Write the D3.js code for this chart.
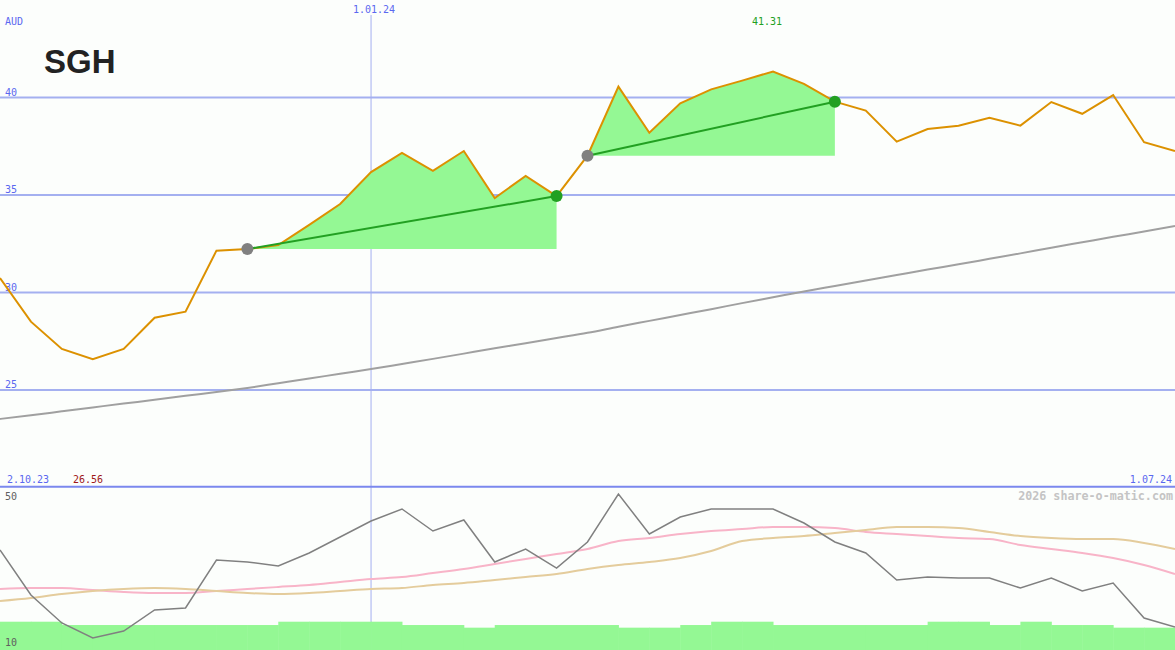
<!DOCTYPE html>
<html><head><meta charset="utf-8">
<script src="https://cdn.jsdelivr.net/npm/d3@7"></script>
<style>
body{margin:0;background:#fcfefc;}
svg{display:block;}
</style>
</head><body>
<svg id="c" width="1175" height="650"></svg>
<script>
// ---------- DATA ----------
const weeks = ["2023-10-09","2023-10-16","2023-10-23","2023-10-30","2023-11-06","2023-11-13","2023-11-20","2023-11-27",
"2023-12-04","2023-12-11","2023-12-18","2023-12-25","2024-01-01","2024-01-08","2024-01-15","2024-01-22","2024-01-29",
"2024-02-05","2024-02-12","2024-02-19","2024-02-26","2024-03-04","2024-03-11","2024-03-18","2024-03-25",
"2024-04-01","2024-04-08","2024-04-15","2024-04-22","2024-04-29","2024-05-06","2024-05-13","2024-05-20","2024-05-27",
"2024-06-03","2024-06-10","2024-06-17","2024-06-24","2024-07-01"];
const price = [30.72,28.48,27.08,26.56,27.08,28.68,28.99,32.12,32.20,32.41,33.44,34.51,36.15,37.13,36.21,37.23,34.82,
35.95,34.92,36.99,40.53,38.17,39.68,40.39,40.84,41.31,40.67,39.76,39.30,37.71,38.36,38.53,38.94,38.53,39.74,39.14,40.10,37.68,37.23];
const ma = [23.49,23.68,23.88,24.08,24.28,24.47,24.68,24.87,25.08,25.32,25.56,25.81,26.05,26.31,26.57,26.84,27.11,27.37,
27.64,27.91,28.22,28.52,28.82,29.12,29.43,29.73,30.03,30.31,30.59,30.87,31.15,31.42,31.70,31.98,32.27,32.55,32.83,33.10,33.38];
const osc = [36.58,24.25,16.58,12.47,14.38,20.14,20.68,33.84,33.29,32.19,35.75,40.14,44.52,47.81,41.78,44.79,33.29,36.85,
31.64,38.77,51.92,40.96,45.62,47.81,47.81,47.81,43.97,38.77,35.75,28.36,29.18,28.90,28.90,26.16,28.90,25.34,27.53,17.95,15.48];
const oscFast = [25.89,26.16,26.16,25.62,25.07,24.79,24.79,25.34,25.89,26.44,26.99,27.81,28.63,29.18,30.27,31.37,32.74,34.11,
35.48,36.85,39.04,39.86,40.96,41.78,42.33,42.88,42.88,42.60,41.51,40.96,40.41,39.86,39.59,37.95,36.85,35.75,34.38,32.47,30.00];
const oscSlow = [22.60,23.42,24.52,25.34,25.89,26.16,25.89,25.34,24.79,24.52,24.79,25.34,25.89,26.16,26.99,27.53,28.36,29.18,
30.00,31.37,32.47,33.29,34.38,36.30,39.04,39.86,40.41,41.23,42.05,42.88,42.88,42.60,41.51,40.41,39.86,39.59,39.59,38.49,36.85];
const volume = [2.8,2.8,2.47,2.47,2.47,2.47,2.47,2.47,2.47,2.8,2.8,2.8,2.8,2.47,2.47,2.21,2.47,2.47,2.47,2.47,2.21,2.21,
2.47,2.8,2.8,2.47,2.47,2.47,2.47,2.47,2.8,2.8,2.47,2.8,2.47,2.47,2.21,2.21];
const trends = [{from:8,to:18},{from:19,to:27}];
const priceTicks = [25,30,35,40];
const oscTicks = [50,10];
const dateMark = "2024-01-01";
const dateMarkLabel = "1.01.24";
const startLabel = "2.10.23", endLabel = "1.07.24";
const ticker = "SGH", currency = "AUD", credit = "2026 share-o-matic.com";

// ---------- CHART ----------
const W = 1175, H = 650;
const MONO = "'DejaVu Sans Mono', monospace";
const parse = d3.utcParse("%Y-%m-%d");
const dates = weeks.map(parse);
const svg = d3.select("#c");
svg.append("rect").attr("width",W).attr("height",H).attr("fill","#fcfefc");

const x = d3.scaleUtc().domain([dates[0], dates[dates.length-1]]).range([0, W]);
const y = d3.scaleLinear().domain([25,40]).range([389.5,97]);
const y2 = d3.scaleLinear().domain([10,50]).range([647,501]);
const yv = d3.scaleLinear().domain([0,2.8]).range([650,621.7]);

const blue = "#5a68f0";
function txt(g){ return g.style("font-family",MONO).attr("font-size",10); }

// gridlines via axis
const gAxis = svg.append("g").attr("class","yaxis")
  .call(d3.axisRight(y).tickValues(priceTicks).tickSize(W).tickFormat(d3.format("d")));
gAxis.select(".domain").remove();
gAxis.selectAll(".tick line").attr("stroke","#a4b0f0").attr("stroke-width",2);
gAxis.selectAll(".tick text").attr("x",5).attr("y",0).attr("dy",-2).attr("fill",blue)
  .attr("text-anchor","start").style("font-family",MONO).style("font-size","10px");

// vertical date line
const xm = x(parse(dateMark));
svg.append("line").attr("x1",xm).attr("x2",xm).attr("y1",15).attr("y2",H)
  .attr("stroke","#a4b0f0").attr("stroke-width",1);
txt(svg.append("text")).attr("x",xm+3).attr("y",13).attr("text-anchor","middle")
  .attr("fill",blue).text(dateMarkLabel);

// long MA
svg.append("path").datum(ma).attr("fill","none").attr("stroke","#a0a0a0").attr("stroke-width",2)
  .attr("d", d3.line().curve(d3.curveMonotoneX).x((d,i)=>x(dates[i])).y(d=>y(d)));

// trend fills
trends.forEach(t=>{
  const idx = d3.range(t.from, t.to+1);
  const base = price[t.from];
  svg.append("path").datum(idx).attr("fill","#94f894").attr("stroke","none")
    .attr("d", d3.area().x(i=>x(dates[i])).y0(y(base)).y1(i=>y(Math.max(price[i],base))));
});

// price line
svg.append("path").datum(price).attr("fill","none").attr("stroke","#dc9100").attr("stroke-width",2)
  .attr("d", d3.line().x((d,i)=>x(dates[i])).y(d=>y(d)));

// trend lines & dots
trends.forEach(t=>{
  svg.append("line").attr("x1",x(dates[t.from])).attr("y1",y(price[t.from]))
    .attr("x2",x(dates[t.to])).attr("y2",y(price[t.to]))
    .attr("stroke","#22a022").attr("stroke-width",2);
  svg.append("circle").attr("cx",x(dates[t.from])).attr("cy",y(price[t.from])).attr("r",6).attr("fill","#808080");
  svg.append("circle").attr("cx",x(dates[t.to])).attr("cy",y(price[t.to])).attr("r",6).attr("fill","#22a022");
});

// labels
const maxI = d3.maxIndex(price), minI = d3.minIndex(price);
txt(svg.append("text")).attr("x",5).attr("y",25).attr("fill",blue).text(currency);
txt(svg.append("text")).attr("x",x(dates[maxI])-6).attr("y",25).attr("text-anchor","middle")
  .attr("fill","#22a022").text(d3.format(".2f")(price[maxI]));
svg.append("text").attr("x",44).attr("y",73).style("font-family","'Liberation Sans', Arial, sans-serif")
  .style("font-weight","bold").style("font-size","33px").attr("fill","#222").text(ticker);
txt(svg.append("text")).attr("x",7).attr("y",483).attr("fill",blue).text(startLabel);
txt(svg.append("text")).attr("x",73).attr("y",483).attr("fill","#a01818").text(d3.format(".2f")(price[minI]));
txt(svg.append("text")).attr("x",1172).attr("y",483).attr("text-anchor","end").attr("fill",blue).text(endLabel);

// panel divider
svg.append("line").attr("x1",0).attr("x2",W).attr("y1",486.7).attr("y2",486.7)
  .attr("stroke","#7b88ee").attr("stroke-width",2);

// lower panel
svg.append("text").attr("x",1173).attr("y",500).attr("text-anchor","end").style("font-family",MONO)
  .style("font-size","11.7px").style("font-weight","bold").attr("fill","#c4c4c4").text(credit);

svg.append("g").selectAll("rect").data(volume).join("rect")
  .attr("x",(d,i)=>x(dates[i])).attr("width",(d,i)=>x(dates[i+1])-x(dates[i])+0.5)
  .attr("y",d=>yv(d)).attr("height",d=>yv(0)-yv(d)).attr("fill","#94f894");

svg.append("path").datum(oscFast).attr("fill","none").attr("stroke","#f8b4c8").attr("stroke-width",2)
  .attr("d", d3.line().curve(d3.curveMonotoneX).x((d,i)=>x(dates[i])).y(d=>y2(d)));
svg.append("path").datum(oscSlow).attr("fill","none").attr("stroke","#e4cc9c").attr("stroke-width",2)
  .attr("d", d3.line().curve(d3.curveMonotoneX).x((d,i)=>x(dates[i])).y(d=>y2(d)));
svg.append("path").datum(osc).attr("fill","none").attr("stroke","#808080").attr("stroke-width",1.5)
  .attr("d", d3.line().x((d,i)=>x(dates[i])).y(d=>y2(d)));

txt(svg.append("g").selectAll("text").data(oscTicks).join("text"))
  .attr("x",5).attr("y",d=>y2(d)-1).attr("fill","#606060").text(d=>d);
</script>
</body></html>
